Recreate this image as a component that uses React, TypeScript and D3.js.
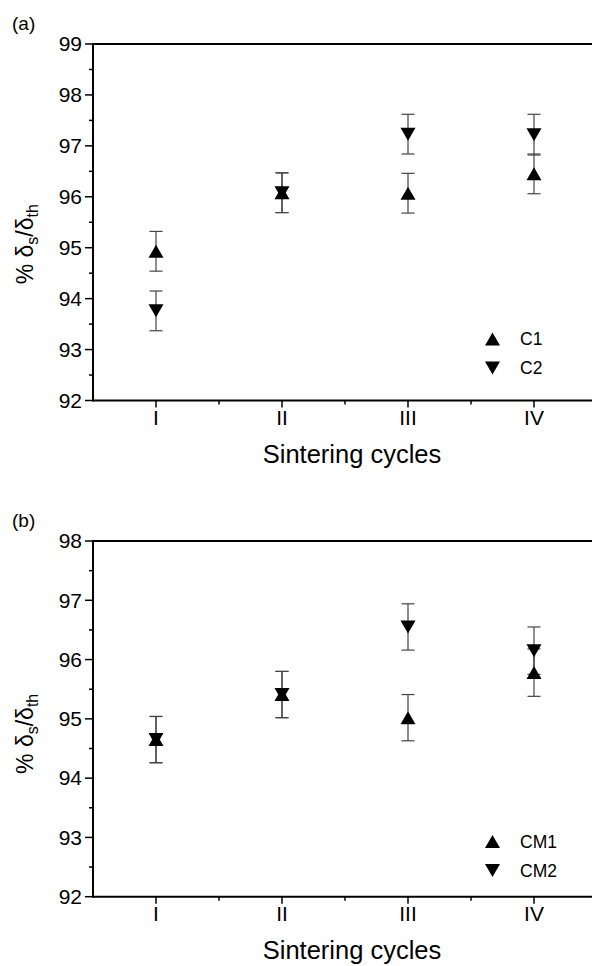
import React from "react";
import * as d3 from "d3";

// Sintering cycle categories
const cycles = ["I", "II", "III", "IV"];

// Panel (a): relative density of C1 / C2 compacts
const c1Values = [94.93, 96.08, 96.07, 96.45];
const c2Values = [93.76, 96.08, 97.23, 97.22];
const c1Errors = [0.39, 0.39, 0.39, 0.39];
const c2Errors = [0.39, 0.39, 0.39, 0.4];

// Panel (b): relative density of CM1 / CM2 compacts
const cm1Values = [94.65, 95.41, 95.02, 95.78];
const cm2Values = [94.65, 95.41, 96.55, 96.15];
const cm1Errors = [0.39, 0.39, 0.39, 0.4];
const cm2Errors = [0.39, 0.39, 0.39, 0.4];

const W = 592;
const H = 966;
const FONT = "'Liberation Sans', Arial, Helvetica, sans-serif";

type Series = { name: string; values: number[]; errors: number[]; up: boolean };

const triPath = (up: boolean) => {
  const w = 7.5, h = 6.5;
  return up
    ? `M0,${-h}L${w},${h}L${-w},${h}Z`
    : `M0,${h}L${w},${-h}L${-w},${-h}Z`;
};

function Panel(props: {
  label: string;
  yDomain: [number, number];
  yRange: [number, number];
  series: Series[];
  legendY: number;
  titleShift: number;
}) {
  const { label, yDomain, yRange, series, legendY, titleShift } = props;
  const x = d3.scaleLinear().domain([0.5, 4.5]).range([93, 597]);
  const y = d3.scaleLinear().domain(yDomain).range(yRange);
  const [y0, y1] = yRange;
  const majors = d3.range(yDomain[0], yDomain[1] + 0.001, 1);
  const minors = d3.range(yDomain[0] + 0.5, yDomain[1], 1);
  const xMinor = [1.5, 2.5, 3.5];
  const xl = x(0.5);
  const midY = (y0 + y1) / 2;

  return (
    <g fontFamily={FONT} fill="#000">
      <text x={12} y={y1 - 14} fontSize={19}>{label}</text>

      {/* axes frame */}
      <line x1={xl} x2={W + 5} y1={y1} y2={y1} stroke="#000" strokeWidth={2} />
      <line x1={xl} x2={W + 5} y1={y0} y2={y0} stroke="#000" strokeWidth={2} />
      <line x1={xl} x2={xl} y1={y1 - 1} y2={y0 + 1} stroke="#000" strokeWidth={2} />

      {/* y ticks */}
      {majors.map((v) => (
        <g key={"ym" + v}>
          <line x1={xl - 8} x2={xl} y1={y(v)} y2={y(v)} stroke="#000" strokeWidth={1.5} />
          <text x={xl - 11} y={y(v)} dy="0.35em" textAnchor="end" fontSize={21}>
            {v}
          </text>
        </g>
      ))}
      {minors.map((v) => (
        <line key={"yn" + v} x1={xl - 4} x2={xl} y1={y(v)} y2={y(v)} stroke="#000" strokeWidth={1.5} />
      ))}

      {/* x ticks */}
      {cycles.map((c, i) => (
        <g key={"xm" + c}>
          <line x1={x(i + 1)} x2={x(i + 1)} y1={y0} y2={y0 + 7} stroke="#000" strokeWidth={1.5} />
          <text x={x(i + 1)} y={y0 + 24} textAnchor="middle" fontSize={21}>
            {c}
          </text>
        </g>
      ))}
      {xMinor.map((v) => (
        <line key={"xn" + v} x1={x(v)} x2={x(v)} y1={y0} y2={y0 + 4} stroke="#000" strokeWidth={1.5} />
      ))}

      <text x={(x(0.5) + x(4.5)) / 2 + 7} y={y0 + 62} textAnchor="middle" fontSize={25.5}>
        Sintering cycles
      </text>

      <text
        transform={`translate(33,${midY + titleShift}) rotate(-90)`}
        textAnchor="middle"
        fontSize={23}
      >
        % δ<tspan fontSize={16} dy={5}>s</tspan>
        <tspan dy={-5}>/δ</tspan>
        <tspan fontSize={16} dy={5}>th</tspan>
      </text>

      {/* error bars */}
      {series.map((s) =>
        s.values.map((v, i) => {
          const cx = x(i + 1);
          const top = y(v + s.errors[i]);
          const bot = y(v - s.errors[i]);
          return (
            <g key={s.name + "e" + i} stroke="#444" strokeWidth={1.2}>
              <line x1={cx} x2={cx} y1={top} y2={bot} />
              <line x1={cx - 6.5} x2={cx + 6.5} y1={top} y2={top} />
              <line x1={cx - 6.5} x2={cx + 6.5} y1={bot} y2={bot} />
            </g>
          );
        })
      )}

      {/* markers */}
      {series.map((s) =>
        s.values.map((v, i) => (
          <path key={s.name + "m" + i} d={triPath(s.up)} transform={`translate(${x(i + 1)},${y(v)})`} fill="#000" />
        ))
      )}

      {/* legend */}
      {series.map((s, k) => (
        <g key={s.name + "leg"} transform={`translate(0,${legendY + k * 29})`}>
          <path d={triPath(s.up)} transform="translate(492.5,0)" fill="#000" />
          <text x={520} y={0} dy="0.35em" fontSize={17.5}>
            {s.name}
          </text>
        </g>
      ))}
    </g>
  );
}

export default function App() {
  return (
    <svg
      width={W}
      height={H}
      viewBox={`0 0 ${W} ${H}`}
      style={{ position: "absolute", left: 0, top: 0, background: "#fff" }}
    >
      <rect width={W} height={H} fill="#fff" />
      <Panel
        label="(a)"
        yDomain={[92, 99]}
        yRange={[400.5, 44]}
        legendY={339}
        titleShift={22}
        series={[
          { name: "C1", values: c1Values, errors: c1Errors, up: true },
          { name: "C2", values: c2Values, errors: c2Errors, up: false },
        ]}
      />
      <Panel
        label="(b)"
        yDomain={[92, 98]}
        yRange={[896.7, 541]}
        legendY={841.5}
        titleShift={15}
        series={[
          { name: "CM1", values: cm1Values, errors: cm1Errors, up: true },
          { name: "CM2", values: cm2Values, errors: cm2Errors, up: false },
        ]}
      />
    </svg>
  );
}
